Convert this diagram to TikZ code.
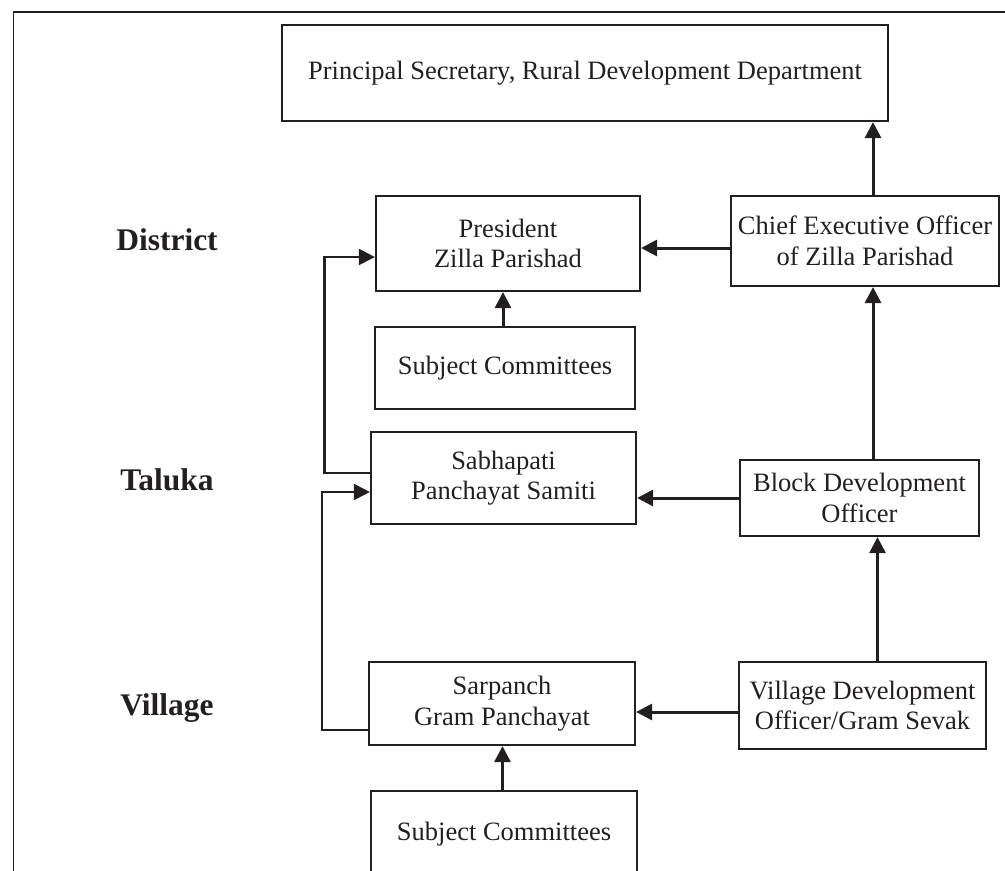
\documentclass[tikz,border=0pt]{standalone}
\usepackage{fontspec}
\setmainfont{Liberation Serif}
\usetikzlibrary{arrows.meta,calc}
\definecolor{ink}{RGB}{35,31,32}
\begin{document}
\begin{tikzpicture}[x=1pt,y=-1pt,
  box/.style={draw=ink, line width=2.2pt, align=center, inner sep=0pt, font=\fontsize{26.5}{30.5}\selectfont, text=ink},
  lvl/.style={font=\bfseries\fontsize{31.5}{36}\selectfont, text=ink, anchor=base},
  arr/.style={draw=ink, line width=3pt, -{Triangle[length=16pt,width=16pt]}},
  looparr/.style={draw=ink, line width=2.2pt, -{Triangle[length=16pt,width=16pt]}},
  frame/.style={draw=ink, line width=1.5pt}]
\useasboundingbox (0,0) rectangle (1005,871);
\clip (0,0) rectangle (1005,871);
\draw[frame] (1020,12) -- (13.5,12) -- (13.5,890);

\node[box, minimum width=606pt, minimum height=96pt] (top) at (585,73) {Principal Secretary, Rural Development Department};
\node[box, minimum width=264pt, minimum height=95pt] (pres) at (508,243.5) {President\\Zilla Parishad};
\node[box, minimum width=260pt, minimum height=82pt] (subc1) at (505,368) {Subject Committees};
\node[box, minimum width=265pt, minimum height=92pt] (sabh) at (503.5,478) {Sabhapati\\Panchayat Samiti};
\node[box, minimum width=266pt, minimum height=83pt] (sarp) at (502,703.5) {Sarpanch\\Gram Panchayat};
\node[box, minimum width=266pt, minimum height=86pt] (subc2) at (504,834) {Subject Committees};
\node[box, minimum width=268pt, minimum height=90pt] (ceo) at (865,241) {Chief Executive Officer\\of Zilla Parishad};
\node[box, minimum width=239pt, minimum height=76pt] (bdo) at (859.5,498) {Block Development\\Officer};
\node[box, minimum width=247pt, minimum height=87pt] (vdo) at (862.5,705.5) {Village Development\\Officer/Gram Sevak};

\node[lvl] (district) at (167,250) {District};
\node[lvl] (taluka) at (167,490) {Taluka};
\node[lvl] (village) at (167,715) {Village};

\coordinate (c1) at ($(ceo.north)+(8,0)$);
\coordinate (c2) at ($(bdo.north)+(13.5,0)$);
\coordinate (c3) at ($(vdo.north)+(15,0)$);
\coordinate (c4) at ($(ceo.west)+(0,7)$);
\coordinate (c5) at ($(vdo.west)+(0,6.5)$);
\coordinate (c6) at ($(subc1.north)+(-2,0)$);
\coordinate (c7) at ($(subc2.north)+(-1.5,0)$);
\coordinate (c8) at ($(sabh.west)+(0,-5)$);
\coordinate (c9) at ($(pres.west)+(0,13.5)$);
\coordinate (c10) at ($(sarp.west)+(0,26.5)$);
\coordinate (c11) at ($(sabh.west)+(0,14)$);

\draw[arr] (c1) -- (c1 |- top.south);
\draw[arr] (c2) -- (c2 |- ceo.south);
\draw[arr] (c3) -- (c3 |- bdo.south);
\draw[arr] (c4) -- (c4 -| pres.east);
\draw[arr] (bdo.west) -- (bdo.west -| sabh.east);
\draw[arr] (c5) -- (c5 -| sarp.east);
\draw[arr] (c6) -- (c6 |- pres.south);
\draw[arr] (c7) -- (c7 |- sarp.south);
\draw[looparr] (c8) -- ++(-45.5,0) |- (c9);
\draw[looparr] (c10) -- ++(-46,0) |- (c11);
\end{tikzpicture}
\end{document}
